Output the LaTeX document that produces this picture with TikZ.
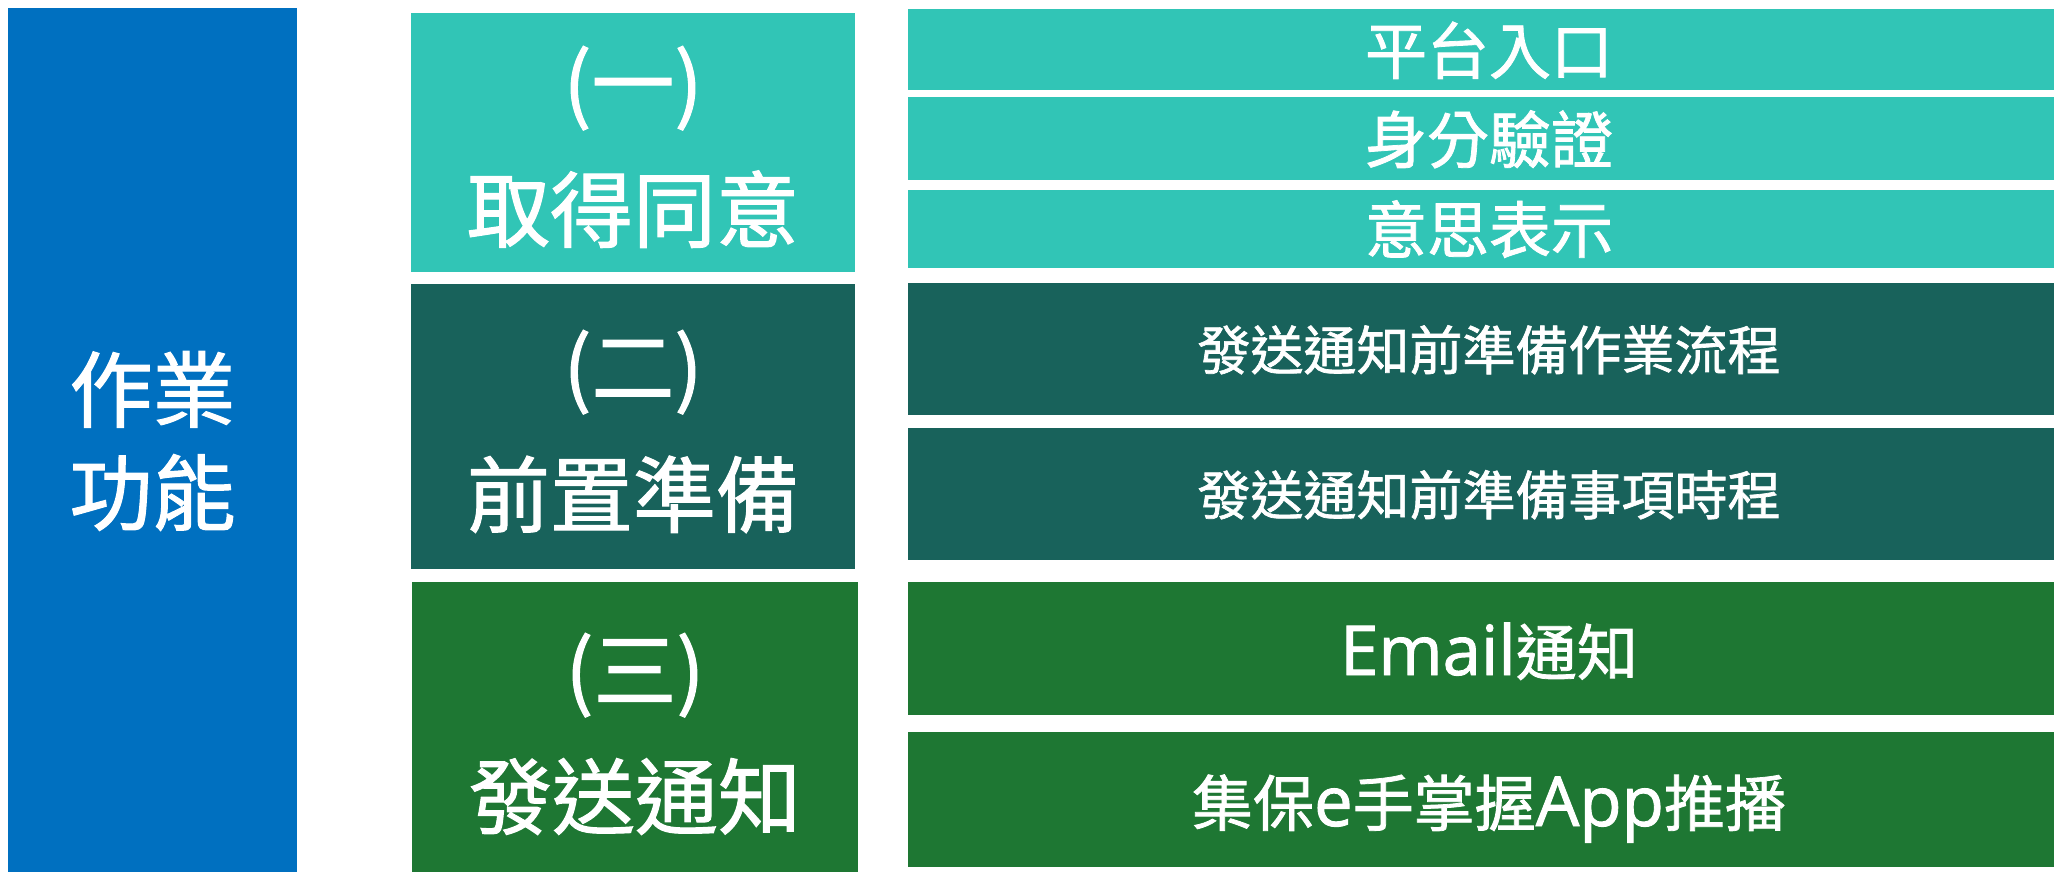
\documentclass[tikz,border=0pt]{standalone}
\usepackage{fontspec}
\setmainfont[FakeBold=1.3]{Noto Sans CJK TC}
\newfontfamily\lat[FakeBold=1.3]{Open Sans}
\definecolor{cblue}{RGB}{0,112,192}
\definecolor{cteal}{RGB}{49,197,182}
\definecolor{cdark}{RGB}{24,98,91}
\definecolor{cgreen}{RGB}{30,119,51}
\begin{document}
\begin{tikzpicture}[x=1pt,y=-1pt,
  box/.style={rectangle, draw=none, inner sep=0pt, outer sep=0pt, anchor=north west},
  txt/.style={text=white, inner sep=0pt, anchor=base},
  big/.style={txt, font=\fontsize{83}{83}\selectfont},
  rtop/.style={txt, font=\fontsize{62}{62}\selectfont},
  rmid/.style={txt, font=\fontsize{53}{53}\selectfont},
  rbot/.style={txt, font=\fontsize{61}{61}\selectfont},
  latin/.style={font=\lat\fontsize{69}{69}\selectfont}]
\useasboundingbox (0,0) rectangle (2054,872);
\clip (0,0) rectangle (2054,872);
\fill[white] (0,0) rectangle (2054,872);
% left
\node[box, fill=cblue, minimum width=289pt, minimum height=880pt] (blue) at (8,8) {};
\node[big] (l1) at (152.5,421) {作業};
\node[big] (l2) at (152.5,524) {功能};
% middle
\node[box, fill=cteal, minimum width=444pt, minimum height=259pt] (m1) at (411,13) {};
\node[box, fill=cdark, minimum width=444pt, minimum height=285pt] (m2) at (411,284) {};
\node[box, fill=cgreen, minimum width=446pt, minimum height=300pt] (m3) at (412,582) {};
\node[big] (m1a) at (633,114) {(一)};
\node[big] (m1b) at (633,241) {取得同意};
\node[big] (m2a) at (633,398) {(二)};
\node[big] (m2b) at (633,526) {前置準備};
\node[big] (m3a) at (635,701) {(三)};
\node[big] (m3b) at (635,828) {發送通知};
% right
\node[box, fill=cteal, minimum width=1162pt, minimum height=81pt] (r1) at (908,9) {};
\node[box, fill=cteal, minimum width=1162pt, minimum height=83pt] (r2) at (908,97) {};
\node[box, fill=cteal, minimum width=1162pt, minimum height=78pt] (r3) at (908,190) {};
\node[box, fill=cdark, minimum width=1162pt, minimum height=132pt] (r4) at (908,283) {};
\node[box, fill=cdark, minimum width=1162pt, minimum height=132pt] (r5) at (908,428) {};
\node[box, fill=cgreen, minimum width=1162pt, minimum height=133pt] (r6) at (908,582) {};
\node[box, fill=cgreen, minimum width=1162pt, minimum height=135pt] (r7) at (908,732) {};
\node[rtop] (t1) at (1489,74) {平台入口};
\node[rtop] (t2) at (1489,163) {身分驗證};
\node[rtop] (t3) at (1489,253) {意思表示};
\node[rmid] (t4) at (1489,370) {發送通知前準備作業流程};
\node[rmid] (t5) at (1489,515) {發送通知前準備事項時程};
\node[rbot] (t6) at (1489,675) {{\lat\fontsize{69}{69}\selectfont Email}通知};
\node[rbot] (t7) at (1489,826) {集保{\lat\fontsize{69}{69}\selectfont e}手掌握{\lat\fontsize{69}{69}\selectfont App}推播};
\end{tikzpicture}
\end{document}
